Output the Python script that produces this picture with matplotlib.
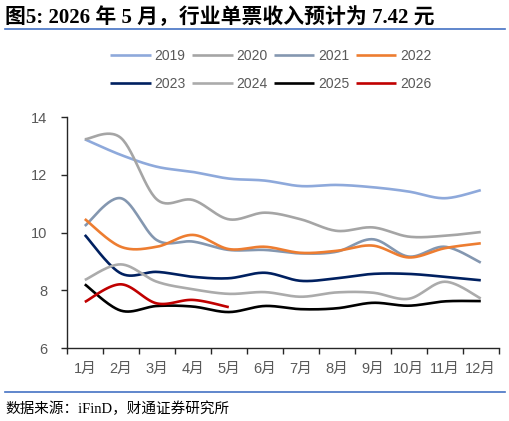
import numpy as np
import matplotlib
matplotlib.use('Agg')
import matplotlib.pyplot as plt

plt.rcParams['font.family'] = ['Liberation Sans', 'Noto Sans CJK SC', 'DejaVu Sans']

months = ['1月', '2月', '3月', '4月', '5月', '6月', '7月', '8月', '9月', '10月', '11月', '12月']
years = ['2019', '2020', '2021', '2022', '2023', '2024', '2025', '2026']

y2019 = [13.23, 12.69, 12.28, 12.10, 11.87, 11.80, 11.61, 11.65, 11.57, 11.42, 11.19, 11.47]
y2020 = [13.23, 13.28, 11.15, 11.13, 10.46, 10.69, 10.46, 10.06, 10.18, 9.86, 9.89, 10.02]
y2021 = [10.23, 11.19, 9.74, 9.69, 9.40, 9.40, 9.28, 9.34, 9.77, 9.17, 9.51, 8.96]
y2022 = [10.47, 9.51, 9.51, 9.92, 9.43, 9.51, 9.30, 9.37, 9.55, 9.14, 9.46, 9.63]
y2023 = [9.92, 8.59, 8.64, 8.47, 8.42, 8.61, 8.33, 8.42, 8.57, 8.57, 8.47, 8.35]
y2024 = [8.36, 8.90, 8.30, 8.04, 7.88, 7.94, 7.78, 7.93, 7.92, 7.71, 8.30, 7.72]
y2025 = [8.21, 7.30, 7.46, 7.44, 7.25, 7.46, 7.35, 7.38, 7.57, 7.47, 7.62, 7.63]
y2026 = [7.60, 8.21, 7.55, 7.67, 7.42]

series = [y2019, y2020, y2021, y2022, y2023, y2024, y2025, y2026]
colors = ['#8EA9DB', '#A5A5A5', '#8497B0', '#ED7D31', '#002060', '#ABABAB', '#000000', '#C00000']


def smooth(x, y, n=30):
    # Excel-style smoothed line: Catmull-Rom segments as cubic Bezier
    x = np.asarray(x, float)
    y = np.asarray(y, float)
    px, py = [], []
    for i in range(len(x) - 1):
        x0, y0 = (x[i - 1], y[i - 1]) if i > 0 else (x[i], y[i])
        x3, y3 = (x[i + 2], y[i + 2]) if i + 2 < len(x) else (x[i + 1], y[i + 1])
        c1x = x[i] + (x[i + 1] - x0) / 6
        c1y = y[i] + (y[i + 1] - y0) / 6
        c2x = x[i + 1] - (x3 - x[i]) / 6
        c2y = y[i + 1] - (y3 - y[i]) / 6
        t = np.linspace(0, 1, n)
        a, b, c, d = (1 - t) ** 3, 3 * (1 - t) ** 2 * t, 3 * (1 - t) * t ** 2, t ** 3
        px.extend(a * x[i] + b * c1x + c * c2x + d * x[i + 1])
        py.extend(a * y[i] + b * c1y + c * c2y + d * y[i + 1])
    return np.array(px), np.array(py)


fig = plt.figure(figsize=(5.10, 4.21), dpi=100)
ax = fig.add_axes([0.131, 0.173, 0.847, 0.549])

lines = []
for name, vals, col in zip(years, series, colors):
    sx, sy = smooth(np.arange(len(vals)), vals)
    ln, = ax.plot(sx, sy, color=col, lw=1.9, label=name, solid_capstyle='butt')
    lines.append(ln)

ax.set_xlim(-0.5, 11.5)
ax.set_ylim(6, 14)
ax.set_yticks([6, 8, 10, 12, 14])
ax.set_xticks(np.arange(-0.5, 12, 1))
ax.set_xticklabels([])
ax.set_xticks(np.arange(12), minor=True)
ax.set_xticklabels(months, minor=True)
ax.tick_params(axis='x', which='major', length=4, width=1, color='#262626', direction='out')
ax.tick_params(axis='x', which='minor', length=0, pad=10, labelsize=10.5, labelcolor='#595959')
ax.tick_params(axis='y', length=4, width=1, color='#262626', labelsize=10.5, labelcolor='#595959', pad=10)
for s in ['top', 'right']:
    ax.spines[s].set_visible(False)
for s in ['left', 'bottom']:
    ax.spines[s].set_color('#262626')
    ax.spines[s].set_linewidth(1)

# legend filled row by row
order = [0, 4, 1, 5, 2, 6, 3, 7]
fig.legend([lines[i] for i in order], [years[i] for i in order],
           loc='center', bbox_to_anchor=(0.531, 0.834), ncol=4, frameon=False,
           fontsize=10, handlelength=2.9, handletextpad=0.25, columnspacing=0.5,
           labelspacing=1.0, labelcolor='#595959')

# title and header rule
fig.text(0.010, 0.958, '图5: 2026 年 5 月，行业单票收入预计为 7.42 元', fontsize=15, fontweight='bold',
         family=['Liberation Serif', 'Noto Sans CJK SC'], va='center', ha='left')
fig.add_artist(plt.Line2D([0.01, 0.99], [0.931, 0.931], color='#4472C4', lw=1.2))
fig.add_artist(plt.Line2D([0.01, 0.99], [0.069, 0.069], color='#4472C4', lw=1.2))
fig.text(0.010, 0.030, '数据来源：iFinD，财通证券研究所', fontsize=10.5,
         family=['Liberation Serif', 'Noto Sans CJK SC'], va='center', ha='left')

fig.savefig('out.png', dpi=100)
